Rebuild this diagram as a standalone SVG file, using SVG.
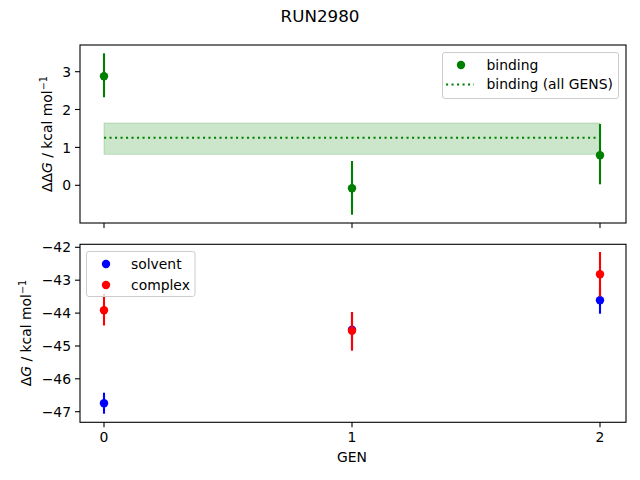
<svg xmlns="http://www.w3.org/2000/svg" width="640" height="480" viewBox="0 0 640 480">
<style>
text{font-family:"DejaVu Sans",sans-serif;fill:#000}
.tick{font-size:13.9px}
.spine{fill:none;stroke:#000;stroke-width:1.1}
.tk{stroke:#000;stroke-width:1.1}
.eg{stroke:#008000;stroke-width:2.1}
.eb{stroke:#0000ff;stroke-width:2.1}
.er{stroke:#ff0000;stroke-width:2.1}
.legend{fill:#fff;fill-opacity:0.8;stroke:#cccccc;stroke-width:1}
</style>
<rect width="640" height="480" fill="#fff"/>
<text x="320" y="22" text-anchor="middle" style="font-size:16.7px">RUN2980</text>

<g id="top-axes">
<rect x="104" y="123" width="496" height="31.3" fill="#008000" fill-opacity="0.2" stroke="#008000" stroke-opacity="0.2"/>
<line x1="104" y1="137.7" x2="600" y2="137.7" stroke="#008000" stroke-width="2.1" stroke-dasharray="2.1,3.4"/>
<rect class="spine" x="80" y="45" width="546" height="178"/>
<g class="tk">
<line x1="75" y1="71.7" x2="80" y2="71.7"/><line x1="75" y1="109.5" x2="80" y2="109.5"/><line x1="75" y1="147.4" x2="80" y2="147.4"/><line x1="75" y1="185.3" x2="80" y2="185.3"/>
<line x1="104" y1="223" x2="104" y2="228"/><line x1="352" y1="223" x2="352" y2="228"/><line x1="600" y1="223" x2="600" y2="228"/>
</g>
<g class="tick" text-anchor="end">
<text x="71" y="76.8">3</text><text x="71" y="114.6">2</text><text x="71" y="152.5">1</text><text x="71" y="190.4">0</text>
</g>
<text transform="translate(51.5,134) rotate(-90)" text-anchor="middle" class="tick">ΔΔ<tspan font-style="italic">G</tspan> / kcal mol<tspan font-size="9.7px" dy="-5">−1</tspan></text>
</g>

<g id="binding-points">
<line class="eg" x1="104" y1="53.3" x2="104" y2="97.3"/>
<line class="eg" x1="352" y1="161" x2="352" y2="214.7"/>
<line class="eg" x1="600" y1="124" x2="600" y2="184.3"/>
<circle cx="104" cy="76.2" r="4.2" fill="#008000"/>
<circle cx="352" cy="188.3" r="4.2" fill="#008000"/>
<circle cx="600" cy="155.3" r="4.2" fill="#008000"/>
</g>

<g id="top-legend">
<rect class="legend" x="442.5" y="52.5" width="176" height="46" rx="2.5"/>
<circle cx="461" cy="65" r="4.2" fill="#008000"/>
<text x="486.5" y="69.5" class="tick">binding</text>
<line x1="446" y1="84.5" x2="474" y2="84.5" stroke="#008000" stroke-width="2.1" stroke-dasharray="2.1,3.4"/>
<text x="486.5" y="89" class="tick">binding (all GENS)</text>
</g>

<g id="bottom-axes">
<rect class="spine" x="80" y="244.3" width="546" height="178"/>
<g class="tk">
<line x1="75" y1="247.3" x2="80" y2="247.3"/><line x1="75" y1="280.2" x2="80" y2="280.2"/><line x1="75" y1="313.1" x2="80" y2="313.1"/><line x1="75" y1="346" x2="80" y2="346"/><line x1="75" y1="378.8" x2="80" y2="378.8"/><line x1="75" y1="411.7" x2="80" y2="411.7"/>
<line x1="104" y1="422.3" x2="104" y2="427.3"/><line x1="352" y1="422.3" x2="352" y2="427.3"/><line x1="600" y1="422.3" x2="600" y2="427.3"/>
</g>
<g class="tick" text-anchor="end">
<text x="71" y="252.4">−42</text><text x="71" y="285.3">−43</text><text x="71" y="318.2">−44</text><text x="71" y="351.1">−45</text><text x="71" y="383.9">−46</text><text x="71" y="416.8">−47</text>
</g>
<g class="tick" text-anchor="middle">
<text x="104" y="442">0</text><text x="352" y="442">1</text><text x="600" y="442">2</text>
</g>
<text x="352" y="462" text-anchor="middle" class="tick">GEN</text>
<text transform="translate(31,333) rotate(-90)" text-anchor="middle" class="tick">Δ<tspan font-style="italic">G</tspan> / kcal mol<tspan font-size="9.7px" dy="-5">−1</tspan></text>
</g>

<g id="solvent-points">
<line class="eb" x1="104" y1="392.7" x2="104" y2="413.7"/>
<line class="eb" x1="352" y1="312" x2="352" y2="349.5"/>
<line class="eb" x1="600" y1="287" x2="600" y2="313.7"/>
<circle cx="104" cy="403.3" r="4.2" fill="#0000ff"/>
<circle cx="352" cy="329.8" r="4.2" fill="#0000ff"/>
<circle cx="600" cy="300.3" r="4.2" fill="#0000ff"/>
</g>

<g id="complex-points">
<line class="er" x1="104" y1="294" x2="104" y2="325.5"/>
<line class="er" x1="352" y1="312" x2="352" y2="350.7"/>
<line class="er" x1="600" y1="252" x2="600" y2="296.6"/>
<circle cx="104" cy="310.3" r="4.2" fill="#ff0000"/>
<circle cx="352" cy="330.7" r="4.2" fill="#ff0000"/>
<circle cx="600" cy="274.3" r="4.2" fill="#ff0000"/>
</g>

<g id="bottom-legend">
<rect class="legend" x="86.5" y="251.5" width="108.5" height="45" rx="2.5"/>
<circle cx="106" cy="264" r="4.2" fill="#0000ff"/>
<text x="131" y="268.5" class="tick">solvent</text>
<circle cx="106" cy="285" r="4.2" fill="#ff0000"/>
<text x="131" y="289.5" class="tick">complex</text>
</g>
</svg>
